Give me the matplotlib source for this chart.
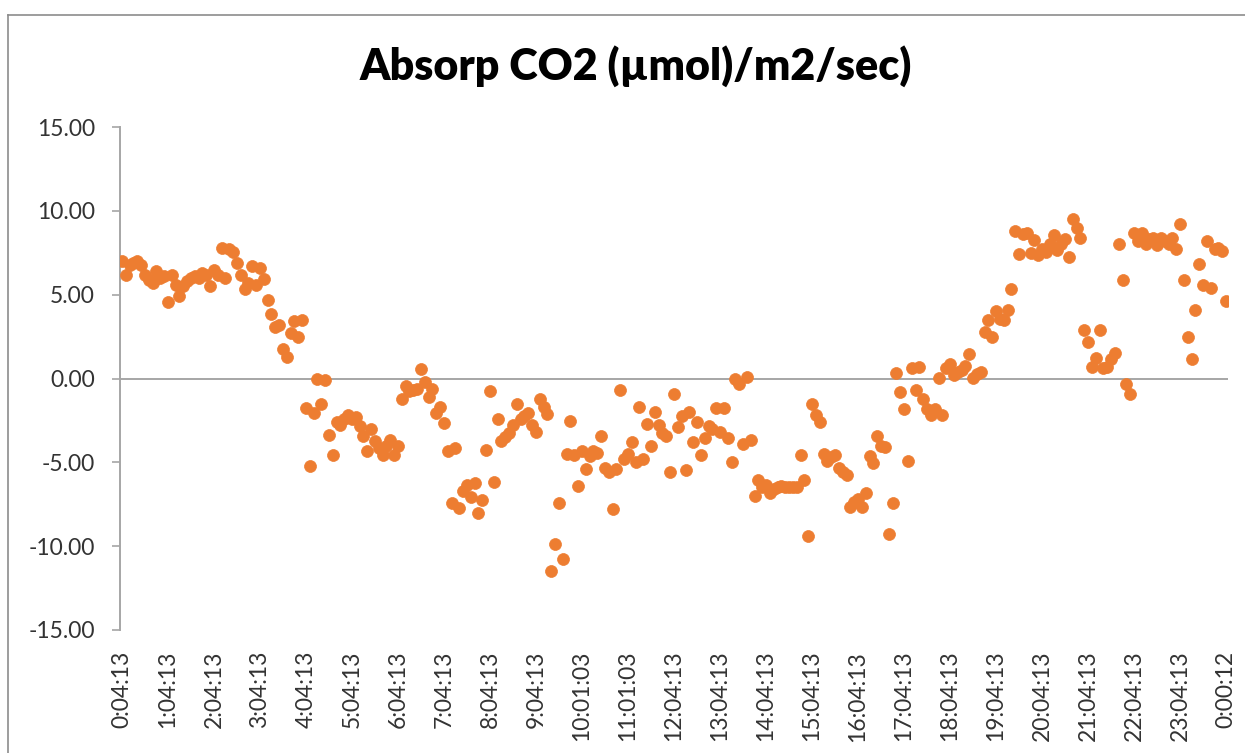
import matplotlib
matplotlib.use("Agg")
import matplotlib.pyplot as plt
from matplotlib.lines import Line2D

title = "Absorp CO2 (\u00b5mol)/m2/sec)"

tick_labels = ["0:04:13", "1:04:13", "2:04:13", "3:04:13", "4:04:13", "5:04:13",
               "6:04:13", "7:04:13", "8:04:13", "9:04:13", "10:01:03", "11:01:03",
               "12:04:13", "13:04:13", "14:04:13", "15:04:13", "16:04:13", "17:04:13",
               "18:04:13", "19:04:13", "20:04:13", "21:04:13", "22:04:13", "23:04:13",
               "0:00:12"]

absorp_co2 = [
    7.0, 6.2, 6.75, 6.9, 7.0, 6.75, 6.15, 5.9, 5.67, 6.4, 6.0, 6.1,
    4.55, 6.2, 5.6, 4.9, 5.5, 5.8, 6.0, 6.1, 6.0, 6.3, 6.15, 5.5,
    6.5, 6.2, 7.8, 6.0, 7.7, 7.55, 6.9, 6.15, 5.35, 5.7, 6.7, 5.6,
    6.6, 5.95, 4.7, 3.85, 3.1, 3.2, 1.75, 1.3, 2.7, 3.4, 2.5, 3.5,
    -1.75, -5.2, -2.05, 0.0, -1.5, -0.1, -3.35, -4.55, -2.6, -2.8, -2.4, -2.2,
    -2.4, -2.3, -2.85, -3.45, -4.35, -3.0, -3.75, -4.15, -4.55, -4.05, -3.65, -4.55,
    -4.0, -1.25, -0.45, -0.75, -0.7, -0.6, 0.55, -0.2, -1.1, -0.6, -2.05, -1.7,
    -2.65, -4.35, -7.45, -4.15, -7.75, -6.7, -6.35, -7.05, -6.25, -8.0, -7.25, -4.25,
    -0.75, -6.15, -2.4, -3.75, -3.5, -3.25, -2.8, -1.5, -2.4, -2.25, -2.05, -2.8,
    -3.2, -1.2, -1.7, -2.1, -11.5, -9.9, -7.45, -10.75, -4.5, -2.55, -4.55, -6.4,
    -4.3, -5.4, -4.6, -4.3, -4.45, -3.45, -5.35, -5.6, -7.8, -5.4, -0.7, -4.8,
    -4.5, -3.8, -5.0, -1.7, -4.8, -2.7, -4.05, -2.0, -2.8, -3.25, -3.45, -5.55,
    -0.95, -2.9, -2.25, -5.45, -2.0, -3.8, -2.6, -4.55, -3.55, -2.85, -3.0, -1.75,
    -3.2, -1.75, -3.55, -5.0, 0.0, -0.3, -3.9, 0.1, -3.65, -7.0, -6.05, -6.45,
    -6.35, -6.8, -6.6, -6.5, -6.4, -6.45, -6.5, -6.45, -6.45, -4.55, -6.05, -9.4,
    -1.5, -2.15, -2.6, -4.5, -4.95, -4.7, -4.55, -5.35, -5.55, -5.75, -7.65, -7.35,
    -7.2, -7.65, -6.8, -4.65, -5.05, -3.4, -4.05, -4.1, -9.25, -7.45, 0.3, -0.8,
    -1.8, -4.9, 0.6, -0.7, 0.7, -1.25, -1.8, -2.15, -1.8, 0.05, -2.2, 0.6,
    0.85, 0.2, 0.4, 0.5, 0.75, 1.45, 0.05, 0.25, 0.4, 2.8, 3.5, 2.5,
    4.0, 3.55, 3.5, 4.1, 5.35, 8.8, 7.4, 8.6, 8.7, 7.5, 8.25, 7.35,
    7.7, 7.55, 8.0, 8.55, 7.65, 8.0, 8.3, 7.25, 9.5, 9.0, 8.4, 2.9,
    2.2, 0.7, 1.2, 2.9, 0.6, 0.7, 1.15, 1.5, 8.0, 5.85, -0.3, -0.95,
    8.65, 8.2, 8.7, 8.0, 8.3, 8.4, 7.95, 8.4, 8.2, 8.0, 8.4, 7.75,
    9.2, 5.85, 2.5, 1.15, 4.1, 6.8, 5.55, 8.2, 5.4, 7.7, 7.8, 7.6, 4.65,
]

label_step = 12
y_ticks = [-15, -10, -5, 0, 5, 10, 15]

plt.rcParams['font.family'] = ['Lato', 'DejaVu Sans']

W, H = 1245, 753
fig = plt.figure(figsize=(W / 100, H / 100), dpi=100)
fig.patch.set_facecolor("white")

ax = fig.add_axes([120 / W, 1 - 630 / H, (1228 - 120) / W, (630 - 127) / H])

x = list(range(len(absorp_co2)))
ax.plot(x, absorp_co2, linestyle="none", marker="o", markersize=8.6,
        markerfacecolor="#ED7D31", markeredgecolor="#ED7D31", markeredgewidth=0.5,
        zorder=3)

ax.set_xlim(-0.5, len(absorp_co2) - 0.5)
ax.set_ylim(-15, 15)

ax.axhline(0, color="#A6A6A6", linewidth=1.4, zorder=2)

for s in ["top", "right", "bottom"]:
    ax.spines[s].set_visible(False)
ax.spines["left"].set_color("#A6A6A6")
ax.spines["left"].set_linewidth(1.4)

ax.set_yticks(y_ticks)
ax.set_yticklabels([f"{v:.2f}" for v in y_ticks])
ax.tick_params(axis="y", direction="out", length=6, width=1.2, color="#A6A6A6",
               labelsize=16.5, labelcolor="#333333", pad=12)

ax.set_xticks(list(range(0, len(absorp_co2), label_step)))
ax.set_xticklabels(tick_labels, rotation=90)
ax.tick_params(axis="x", length=0, labelsize=16.5, labelcolor="#333333", pad=15)

fig.text(0.511, 1 - 66 / H, title, ha="center", va="center",
         fontsize=31, fontweight="heavy", color="black")

# chart area border (top and left edges visible)
fig.add_artist(Line2D([8 / W, 1.0], [1 - 15 / H, 1 - 15 / H], transform=fig.transFigure,
                      color="#8C8C8C", linewidth=1.2))
fig.add_artist(Line2D([8 / W, 8 / W], [0.0, 1 - 15 / H], transform=fig.transFigure,
                      color="#8C8C8C", linewidth=1.2))

fig.savefig("out.png", dpi=100, facecolor="white")
